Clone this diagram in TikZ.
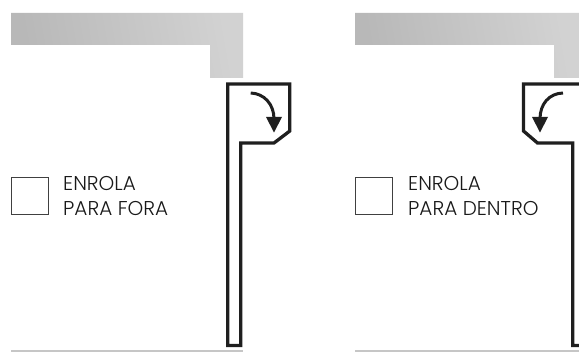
\documentclass[tikz,border=0pt]{standalone}
\usepackage{fontspec}
\setmainfont{Poppins}[UprightFont=* Light]
\tikzset{
  x=1pt, y=-1pt,
  band/.style={left color=gray!56, right color=gray!35, shading angle=100},
  profile/.style={draw=black!88, line width=3.3pt, miter limit=10},
  sweep/.style={draw=black!88, line width=3pt},
  tip/.style={fill=black!88},
  tickbox/.style={draw=black!75, line width=0.8pt, minimum size=37pt, inner sep=0pt, anchor=north west},
  caption/.style={anchor=north west, align=left, inner sep=0pt, font=\fontsize{20}{24.5}\selectfont, text=black!90},
  rule/.style={fill=gray!45},
}
\begin{document}
\begin{tikzpicture}
  \useasboundingbox (0,0) rectangle (579,352);
  \clip (0,0) rectangle (579,352);
  % left panel
  \shade[band] (11,13) -- (243,13) -- (243,78) -- (210,78) -- (210,45) -- (11,45) -- cycle;
  \fill[rule] (11,350) rectangle (243,352);
  \draw[profile] (227.7,84) -- (289.8,84) -- (289.8,131) -- (274,143) -- (240.7,143) -- (240.7,345.5) -- (227.7,345.5) -- cycle;
  \draw[sweep] (250.7,93) .. controls (264,93.5) and (274,104) .. (274,119);
  \fill[tip] (266,117) -- (282,117) -- (274,132.5) -- cycle;
  \node[tickbox] (boxout) at (11,177) {};
  \node[caption] (textout) at (63,176.5) {ENROLA\\PARA FORA};
  % right panel
  \shade[band] (355,13) -- (579,13) -- (579,78) -- (554,78) -- (554,45) -- (355,45) -- cycle;
  \fill[rule] (355,350) rectangle (579,352);
  \draw[profile] (585,84) -- (523.5,84) -- (523.5,131) -- (537.5,143) -- (572.7,143) -- (572.7,345.5) -- (585,345.5);
  \draw[sweep] (563,93) .. controls (549,93.5) and (540,104) .. (540,119);
  \fill[tip] (532,117) -- (548,117) -- (540,132.5) -- cycle;
  \node[tickbox] (boxin) at (355,177) {};
  \node[caption] (textin) at (408,176.5) {ENROLA\\PARA DENTRO};
\end{tikzpicture}
\end{document}
